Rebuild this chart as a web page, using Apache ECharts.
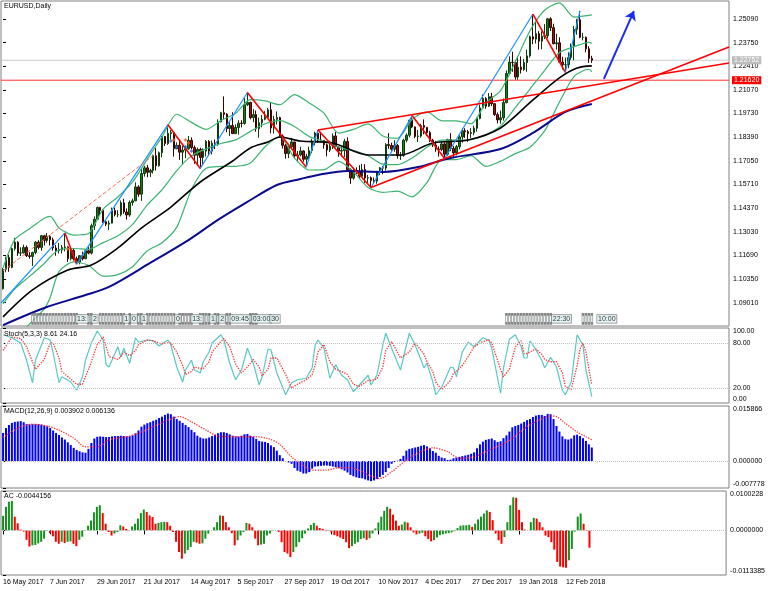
<!DOCTYPE html>
<html><head><meta charset="utf-8">
<script src="https://cdn.jsdelivr.net/npm/echarts@6/dist/echarts.min.js"></script>
<style>html,body{margin:0;padding:0;background:#fff}#c{width:768px;height:591px}</style>
</head><body><div id="c"></div><script>
// ---------- data ----------
const tickLabels = ['16 May 2017','7 Jun 2017','29 Jun 2017','21 Jul 2017','14 Aug 2017','5 Sep 2017','27 Sep 2017','19 Oct 2017','10 Nov 2017','4 Dec 2017','27 Dec 2017','19 Jan 2018','12 Feb 2018'];
const tickBars = [0,16,32,48,64,80,96,112,128,144,160,176,192];
const priceTicks = [1.0901,1.1035,1.1169,1.1303,1.1437,1.1571,1.1705,1.1839,1.1973,1.2107,1.2241,1.2375,1.2509];
const bidPrice = 1.22752;
const levelPrice = 1.21620;

const closes = [1.1090,1.1157,1.1101,1.1207,1.1244,1.1182,1.1183,1.1214,1.1167,1.1163,
1.1185,1.1244,1.1214,1.1280,1.1254,1.1277,1.1257,1.1211,1.1197,1.1199,
1.1213,1.1217,1.1150,1.1197,1.1150,1.1131,1.1167,1.1150,1.1195,1.1182,
1.1337,1.1374,1.1441,1.1424,1.1359,1.1346,1.1352,1.1423,1.1400,1.1400,
1.1467,1.1415,1.1398,1.1469,1.1478,1.1557,1.1516,1.1633,1.1665,1.1640,
1.1650,1.1734,1.1677,1.1751,1.1843,1.1803,1.1860,1.1865,1.1774,1.1793,
1.1754,1.1766,1.1773,1.1821,1.1780,1.1737,1.1770,1.1724,1.1760,1.1815,
1.1760,1.1805,1.1800,1.1925,1.1978,1.1969,1.1888,1.1905,1.1859,1.1894,
1.1918,1.1917,1.2023,1.2036,1.1950,1.1967,1.1887,1.1921,1.1941,1.1952,
1.1994,1.1891,1.1940,1.1950,1.1846,1.1793,1.1746,1.1784,1.1812,1.1733,
1.1738,1.1761,1.1714,1.1730,1.1763,1.1810,1.1862,1.1823,1.1821,1.1796,
1.1766,1.1788,1.1846,1.1784,1.1760,1.1763,1.1815,1.1655,1.1607,1.1650,
1.1645,1.1617,1.1656,1.1608,1.1609,1.1593,1.1590,1.1643,1.1665,1.1664,
1.1797,1.1792,1.1771,1.1792,1.1734,1.1735,1.1822,1.1850,1.1935,1.1897,
1.1843,1.1845,1.1905,1.1895,1.1865,1.1822,1.1795,1.1772,1.1769,1.1801,
1.1742,1.1825,1.1775,1.1750,1.1785,1.1840,1.1875,1.1870,1.1860,1.1865,
1.1890,1.1945,1.2005,1.2058,1.2015,1.2068,1.2029,1.1967,1.1937,1.1949,
1.2035,1.2200,1.2264,1.2262,1.2180,1.2236,1.2222,1.2262,1.2300,1.2408,
1.2395,1.2426,1.2383,1.2411,1.2414,1.2510,1.2460,1.2369,1.2374,1.2265,
1.2250,1.2250,1.2291,1.2355,1.2450,1.2505,1.2405,1.2405,1.2340,1.2285,
1.2275];
const opens = [1.0980,1.1090,1.1157,1.1101,1.1207,1.1244,1.1182,1.1183,1.1214,1.1167,
1.1163,1.1185,1.1244,1.1214,1.1280,1.1254,1.1277,1.1257,1.1211,1.1197,
1.1199,1.1213,1.1217,1.1150,1.1197,1.1150,1.1131,1.1167,1.1150,1.1195,
1.1182,1.1337,1.1374,1.1441,1.1424,1.1359,1.1346,1.1352,1.1423,1.1400,
1.1400,1.1467,1.1415,1.1398,1.1469,1.1478,1.1557,1.1516,1.1633,1.1665,
1.1640,1.1650,1.1734,1.1677,1.1751,1.1843,1.1803,1.1860,1.1865,1.1774,
1.1793,1.1754,1.1766,1.1773,1.1821,1.1780,1.1737,1.1770,1.1724,1.1760,
1.1815,1.1760,1.1805,1.1800,1.1925,1.1978,1.1969,1.1888,1.1905,1.1859,
1.1894,1.1918,1.1917,1.2023,1.2036,1.1950,1.1967,1.1887,1.1921,1.1941,
1.1952,1.1994,1.1891,1.1940,1.1950,1.1846,1.1793,1.1746,1.1784,1.1812,
1.1733,1.1738,1.1761,1.1714,1.1730,1.1763,1.1810,1.1862,1.1823,1.1821,
1.1796,1.1766,1.1788,1.1846,1.1784,1.1760,1.1763,1.1815,1.1655,1.1607,
1.1650,1.1645,1.1617,1.1656,1.1608,1.1609,1.1593,1.1590,1.1643,1.1665,
1.1664,1.1797,1.1792,1.1771,1.1792,1.1734,1.1735,1.1822,1.1850,1.1935,
1.1897,1.1843,1.1845,1.1905,1.1895,1.1865,1.1822,1.1795,1.1772,1.1769,
1.1801,1.1742,1.1825,1.1775,1.1750,1.1785,1.1840,1.1875,1.1870,1.1860,
1.1865,1.1890,1.1945,1.2005,1.2058,1.2015,1.2068,1.2029,1.1967,1.1937,
1.1949,1.2035,1.2200,1.2264,1.2262,1.2180,1.2236,1.2222,1.2262,1.2300,
1.2408,1.2395,1.2426,1.2383,1.2411,1.2414,1.2510,1.2460,1.2369,1.2374,
1.2265,1.2250,1.2250,1.2291,1.2355,1.2450,1.2505,1.2405,1.2405,1.2340,
1.2285];
const highs = [1.1097,1.1162,1.1172,1.1213,1.1268,1.1249,1.1215,1.1230,1.1225,1.1188,
1.1190,1.1250,1.1255,1.1285,1.1285,1.1296,1.1283,1.1270,1.1228,1.1240,
1.1228,1.1296,1.1220,1.1210,1.1210,1.1162,1.1170,1.1190,1.1205,1.1220,
1.1349,1.1390,1.1445,1.1444,1.1430,1.1370,1.1366,1.1440,1.1440,1.1425,
1.1480,1.1490,1.1435,1.1480,1.1490,1.1583,1.1567,1.1658,1.1677,1.1682,
1.1660,1.1740,1.1777,1.1758,1.1846,1.1846,1.1910,1.1880,1.1868,1.1810,
1.1828,1.1790,1.1790,1.1845,1.1838,1.1792,1.1780,1.1779,1.1776,1.1823,
1.1823,1.1820,1.1826,1.1940,1.1983,1.2070,1.1975,1.1923,1.1980,1.1912,
1.1935,1.1935,1.2060,1.2092,1.2040,1.1998,1.1990,1.1950,1.1965,1.1987,
1.2005,1.2035,1.1960,1.1985,1.1955,1.1855,1.1800,1.1790,1.1835,1.1813,
1.1760,1.1785,1.1765,1.1745,1.1785,1.1830,1.1870,1.1880,1.1862,1.1823,
1.1803,1.1819,1.1860,1.1868,1.1785,1.1785,1.1830,1.1838,1.1663,1.1665,
1.1668,1.1680,1.1688,1.1686,1.1625,1.1616,1.1610,1.1648,1.1670,1.1675,
1.1805,1.1862,1.1808,1.1822,1.1800,1.1755,1.1830,1.1860,1.1938,1.1961,
1.1900,1.1880,1.1915,1.1940,1.1895,1.1875,1.1830,1.1818,1.1787,1.1813,
1.1810,1.1830,1.1862,1.1790,1.1795,1.1850,1.1890,1.1890,1.1880,1.1890,
1.1904,1.1950,1.2023,1.2081,1.2066,1.2089,1.2090,1.2032,1.1979,1.1990,
1.2058,1.2217,1.2297,1.2323,1.2275,1.2295,1.2297,1.2283,1.2335,1.2415,
1.2537,1.2494,1.2440,1.2439,1.2480,1.2515,1.2519,1.2482,1.2425,1.2405,
1.2295,1.2290,1.2320,1.2370,1.2470,1.2510,1.2555,1.2430,1.2410,1.2355,
1.2300];
const lows = [1.0975,1.1073,1.1076,1.1096,1.1196,1.1166,1.1165,1.1180,1.1160,1.1150,
1.1109,1.1175,1.1203,1.1195,1.1225,1.1240,1.1225,1.1196,1.1167,1.1180,
1.1180,1.1192,1.1132,1.1140,1.1140,1.1119,1.1118,1.1140,1.1150,1.1175,
1.1174,1.1313,1.1370,1.1395,1.1353,1.1335,1.1312,1.1350,1.1390,1.1385,
1.1390,1.1405,1.1372,1.1388,1.1450,1.1476,1.1501,1.1478,1.1615,1.1612,
1.1613,1.1633,1.1650,1.1672,1.1725,1.1789,1.1795,1.1826,1.1729,1.1770,
1.1710,1.1688,1.1720,1.1768,1.1771,1.1688,1.1680,1.1662,1.1680,1.1730,
1.1733,1.1741,1.1772,1.1790,1.1923,1.1943,1.1867,1.1846,1.1858,1.1859,
1.1853,1.1895,1.1910,1.2015,1.1940,1.1924,1.1870,1.1836,1.1895,1.1935,
1.1945,1.1861,1.1860,1.1911,1.1837,1.1775,1.1717,1.1720,1.1770,1.1718,
1.1697,1.1730,1.1700,1.1669,1.1715,1.1748,1.1793,1.1806,1.1810,1.1774,
1.1730,1.1755,1.1772,1.1783,1.1728,1.1730,1.1727,1.1642,1.1574,1.1598,
1.1630,1.1603,1.1615,1.1580,1.1580,1.1554,1.1575,1.1575,1.1624,1.1629,
1.1650,1.1773,1.1762,1.1756,1.1717,1.1710,1.1728,1.1810,1.1838,1.1890,
1.1833,1.1812,1.1836,1.1855,1.1845,1.1811,1.1783,1.1756,1.1729,1.1760,
1.1718,1.1734,1.1760,1.1722,1.1736,1.1770,1.1808,1.1835,1.1812,1.1835,
1.1850,1.1870,1.1940,1.2000,1.2000,1.2010,1.2015,1.1960,1.1917,1.1915,
1.1933,1.2030,1.2190,1.2210,1.2165,1.2165,1.2200,1.2215,1.2210,1.2290,
1.2366,1.2370,1.2335,1.2337,1.2395,1.2400,1.2441,1.2365,1.2335,1.2260,
1.2223,1.2206,1.2230,1.2278,1.2275,1.2420,1.2400,1.2388,1.2320,1.2260,
1.2260];

// Bollinger bands (20,2), read at these bars
const bbBars = [0,4,9,14,16,19,24,29,34,39,44,49,54,59,64,69,74,79,84,89,94,99,104,109,114,119,124,129,134,139,144,149,154,159,164,169,174,179,184,189,194,199,200];
const bbMid = [1.0894,1.0979,1.1050,1.1123,1.1160,1.1201,1.1208,1.1203,1.1241,1.1280,1.1345,1.1455,1.1541,1.1649,1.1733,1.1773,1.1803,1.1824,1.1872,1.1915,1.1933,1.1900,1.1843,1.1815,1.1782,1.1763,1.1734,1.1686,1.1683,1.1721,1.1782,1.1822,1.1822,1.1825,1.1853,1.1903,1.2006,1.2112,1.2218,1.2319,1.2352,1.2377,1.2371];
const bbUp = [1.1098,1.1258,1.1320,1.1380,1.1390,1.1325,1.1284,1.1293,1.1431,1.1500,1.1585,1.1715,1.1841,1.1969,1.1923,1.1883,1.1933,1.1974,1.2052,1.2045,1.2023,1.2080,1.2033,1.1975,1.1862,1.1883,1.1914,1.1846,1.1833,1.1941,1.1982,1.1932,1.1932,1.1915,1.2033,1.2103,1.2266,1.2442,1.2560,1.2600,1.2520,1.2530,1.2532];
const bbLow = [1.0690,1.0700,1.0780,1.0866,1.0930,1.1077,1.1132,1.1113,1.1051,1.1060,1.1105,1.1195,1.1241,1.1329,1.1543,1.1663,1.1673,1.1674,1.1692,1.1785,1.1843,1.1720,1.1653,1.1655,1.1702,1.1643,1.1554,1.1526,1.1533,1.1501,1.1582,1.1712,1.1712,1.1735,1.1673,1.1703,1.1746,1.1782,1.1876,1.2038,1.2184,1.2224,1.2210];

// moving averages, read at these bars
const maBlackBars = [0,10,22,30,39,47,57,67,78,84,90,94,101,112,124,135,146,158,169,180,189,195,200];
const maBlack = [1.0820,1.0973,1.1086,1.1114,1.1211,1.1324,1.1443,1.1585,1.1704,1.1778,1.1812,1.1840,1.1817,1.1806,1.1738,1.1738,1.1806,1.1823,1.1891,1.2050,1.2175,1.2231,1.2243];
const maBlueBars = [0,14,28,36,50,62,73,83,93,101,107,117,129,141,152,169,180,191,200];
const maBlue = [1.0774,1.0871,1.0944,1.0990,1.1126,1.1245,1.1370,1.1472,1.1568,1.1602,1.1625,1.1647,1.1642,1.1670,1.1721,1.1772,1.1863,1.1982,1.2027];

// zigzag turning points [bar, price]
const zigzag = [[-0.7,1.0899],[21,1.1296],[25,1.1119],[56,1.1910],[67,1.1662],[83,1.2092],[103,1.1669],[107,1.1880],[125,1.1554],[139,1.1961],[150,1.1718],[180,1.2537],[191,1.2206],[196,1.2555]];
// trend lines [bar1, price1, bar2, price2]
const trendLines = [[107,1.1880,246.6,1.2260],[125,1.1554,246.6,1.2350]];
const arrowLine = [[204.1,1.2169],[214.3,1.2554]];
const dashedLine = [[0,1.1081],[51,1.1735]];
const dotsOrange = [[22,1.1205],[58,1.1823],[62,1.1823],[63,1.1806]];
const dotsBlue = [[57,1.1817],[59,1.1783],[62,1.1783],[64,1.1761]];

// calendar event marks along the chart bottom
const eventBars = [10,11,12,13,14,15,16,17,18,19,20,21,22,23,24,25,29,30,33,34,35,36,37,38,39,40,41,43,46,47,49,50,51,52,53,54,55,56,57,58,60,61,62,63,64,67,68,69,70,72,73,76,77,84,85,86,171,172,173,174,175,176,177,178,179,180,181,182,183,184,185,186,197,198,199,200];
const eventTags = [[26.8,'13:'],[31.2,'2'],[41.8,'1'],[44.5,'0'],[47.9,'1'],[59.4,'0'],[65.9,'13:'],[71.3,'1'],[74.4,'2'],[80.5,'09:45'],[87.8,'03:00'],[92.4,'30'],[189.7,'22:30'],[205.1,'10:00']];

// Stochastic (5,3,3)
const stochK = [[0,91],[3,87],[6,80],[8,57],[10,27],[11,57],[14,87],[16,84],[17,67],[19,27],[20,35],[23,28],[25,17],[27,35],[28,57],[30,80],[32,96],[34,84],[35,51],[36,48],[39,75],[40,61],[41,73],[43,53],[45,87],[46,81],[49,84],[51,83],[53,76],[54,79],[56,84],[57,77],[59,48],[61,28],[62,44],[64,57],[65,44],[67,40],[68,55],[70,68],[71,80],[74,91],[75,84],[77,53],[79,31],[81,44],[83,73],[85,53],[87,24],[88,35],[90,72],[91,71],[93,40],[96,11],[98,27],[100,31],[103,33],[105,47],[106,77],[107,84],[109,73],[111,33],[113,51],[115,37],[117,31],[119,15],[121,24],[124,37],[125,24],[127,37],[129,77],[130,93],[132,73],[135,44],[138,93],[140,77],[143,47],[144,53],[146,28],[147,11],[149,21],[152,48],[153,47],[154,35],[156,68],[158,81],[160,75],[163,87],[165,84],[166,73],[169,13],[170,47],[172,85],[174,91],[176,75],[177,60],[178,60],[179,83],[181,71],[183,57],[184,47],[186,61],[188,48],[190,17],[191,11],[193,28],[195,91],[197,77],[198,44],[200,8.61]];
const stochD = [[0,70],[3,88],[6,86],[8,75],[10,55],[11,45],[14,58],[16,80],[17,80],[19,60],[20,42],[23,32],[25,25],[27,25],[28,35],[30,55],[32,78],[34,88],[35,75],[36,62],[39,58],[40,62],[41,68],[43,63],[45,70],[46,78],[49,84],[51,83],[53,80],[54,79],[56,80],[57,80],[59,68],[61,50],[62,38],[64,42],[65,48],[67,46],[68,46],[70,55],[71,68],[74,82],[75,86],[77,75],[79,52],[81,40],[83,48],[85,58],[87,48],[88,36],[90,45],[91,60],[93,60],[96,38],[98,20],[100,25],[103,31],[105,38],[106,50],[107,68],[109,78],[111,55],[113,45],[115,42],[117,38],[119,25],[121,22],[124,30],[125,30],[127,32],[129,48],[130,70],[132,82],[135,60],[138,68],[140,80],[143,65],[144,55],[146,42],[147,28],[149,18],[152,30],[153,40],[154,42],[156,50],[158,62],[160,75],[163,82],[165,84],[166,80],[169,45],[170,35],[172,45],[174,75],[176,83],[177,66],[178,66],[179,68],[181,72],[183,65],[184,58],[186,55],[188,55],[190,40],[191,22],[193,18],[195,50],[196,72],[197,80],[198,68],[199,45],[200,24.16]];

// MACD (12,26,9): main value per bar and signal line
const macdMain = [.0081,.0095,.0104,.0110,.0113,.0114,.0115,.0112,.0107,.0106,
.0106,.0106,.0106,.0105,.0103,.0100,.0095,.0088,.0081,.0075,
.0068,.0062,.0054,.0046,.0038,.0032,.0028,.0025,.0024,.0035,
.0052,.0065,.0070,.0071,.0070,.0069,.0069,.0071,.0072,.0072,
.0073,.0072,.0071,.0072,.0074,.0080,.0088,.0099,.0105,.0109,
.0112,.0116,.0119,.0124,.0128,.0133,.0137,.0135,.0128,.0121,
.0116,.0110,.0104,.0098,.0090,.0083,.0073,.0068,.0065,.0065,
.0068,.0072,.0076,.0080,.0083,.0083,.0081,.0077,.0073,.0072,
.0071,.0073,.0077,.0078,.0073,.0070,.0064,.0058,.0056,.0055,
.0052,.0045,.0040,.0030,.0017,.0008,.0000,-.0004,-.0008,-.0020,
-.0028,-.0031,-.0036,-.0036,-.0032,-.0022,-.0016,-.0015,-.0014,-.0013,
-.0013,-.0014,-.0016,-.0018,-.0021,-.0024,-.0028,-.0033,-.0040,-.0044,
-.0047,-.0049,-.0050,-.0053,-.0056,-.0058,-.0056,-.0052,-.0046,-.0040,
-.0032,-.0020,-.0008,-.0003,.0001,.0006,.0015,.0030,.0035,.0037,
.0039,.0041,.0044,.0046,.0042,.0037,.0029,.0024,.0015,.0010,
.0008,.0003,.0004,.0008,.0010,.0012,.0014,.0016,.0018,.0021,
.0025,.0037,.0048,.0056,.0061,.0063,.0065,.0060,.0055,.0057,
.0066,.0074,.0085,.0097,.0101,.0104,.0108,.0113,.0118,.0121,
.0127,.0131,.0133,.0133,.0130,.0136,.0135,.0121,.0101,.0085,
.0071,.0063,.0062,.0065,.0074,.0076,.0072,.0066,.0058,.0048,
.0039];
const macdSignal = [[0,.0068],[6,.0099],[10,.0106],[15,.0101],[19,.0089],[24,.0066],[28,.0041],[32,.0041],[36,.0061],[42,.0070],[46,.0080],[51,.0099],[56,.0118],[60,.0128],[64,.0113],[69,.0089],[73,.0072],[78,.0070],[85,.0070],[90,.0065],[94,.0048],[98,.0012],[102,-.0012],[105,-.0026],[110,-.0026],[114,-.0019],[119,-.0021],[124,-.0040],[128,-.0050],[132,-.0031],[137,.0003],[142,.0027],[146,.0038],[151,.0027],[155,.0008],[160,.0012],[164,.0027],[169,.0046],[173,.0065],[178,.0099],[182,.0118],[186,.0130],[188,.0128],[191,.0109],[195,.0084],[198,.0070],[200,.006136]];

// Accelerator oscillator per bar
const acValues = [.0037,.0060,.0073,.0075,.0035,.0018,.0002,-.0003,-.0024,-.0041,
-.0038,-.0037,-.0033,-.0029,-.0021,-.0001,-.0007,-.0015,-.0029,-.0034,
-.0029,-.0032,-.0029,-.0028,-.0034,-.0040,-.0024,-.0016,-.0001,.0012,
.0025,.0046,.0060,.0064,.0044,.0017,-.0004,-.0013,-.0008,-.0004,
.0013,.0010,.0004,.0001,.0010,.0017,.0030,.0044,.0053,.0047,
.0038,.0034,.0017,.0019,.0021,.0022,.0021,.0012,-.0004,-.0029,
-.0055,-.0072,-.0059,-.0050,-.0042,-.0029,-.0031,-.0034,-.0033,-.0021,
-.0008,.0000,.0008,.0021,.0038,.0037,.0021,.0008,-.0007,-.0038,
-.0025,-.0013,-.0004,.0019,.0017,.0008,-.0021,-.0038,-.0036,-.0034,
-.0013,-.0008,.0001,.0000,-.0004,-.0030,-.0055,-.0059,-.0068,-.0055,
-.0042,-.0030,-.0020,-.0008,.0005,.0014,.0019,.0012,.0006,.0004,
-.0002,.0001,-.0005,-.0012,-.0015,-.0018,-.0022,-.0030,-.0045,-.0040,
-.0034,-.0030,-.0022,-.0020,-.0024,-.0020,-.0008,.0005,.0020,.0035,
.0050,.0060,.0055,.0040,.0025,.0012,.0015,.0022,.0020,.0008,
-.0005,-.0010,-.0008,-.0006,-.0015,-.0022,-.0028,-.0025,-.0018,-.0012,
-.0010,-.0008,-.0007,-.0005,-.0002,.0006,.0012,.0013,.0013,.0014,
.0009,.0017,.0028,.0035,.0043,.0051,.0047,.0026,-.0008,-.0025,
-.0034,-.0017,.0021,.0064,.0084,.0083,.0052,.0021,.0002,.0000,
.0021,.0032,.0030,.0021,.0008,-.0013,-.0017,-.0030,-.0049,-.0080,
-.0092,-.0094,-.0095,-.0076,-.0047,-.0003,.0035,.0043,.0017,.0001,
-.0044];

// ---------- chart ----------
const FONT = 'Liberation Sans, Arial, sans-serif';
const TXT = {fontSize: 7, color: '#000', fontFamily: FONT};
const X_MIN = -0.7, X_MAX = 246.6;
const pair = (xs, ys) => xs.map((x, i) => [x, ys[i]]);

const chart = echarts.init(document.getElementById('c'), null, {renderer: 'canvas'});
const grids = [
  {left: 1, top: 1, width: 728, height: 325},
  {left: 1, top: 328, width: 728, height: 75},
  {left: 1, top: 406, width: 728, height: 82},
  {left: 1, top: 491, width: 728, height: 84}
].map(g => Object.assign(g, {show: true, borderColor: '#808080', borderWidth: 1, backgroundColor: '#fff'}));

const xAxes = [0, 1, 2, 3].map(i => ({
  type: 'value', gridIndex: i, min: X_MIN, max: X_MAX,
  show: i === 3,
  axisLine: {show: false},
  splitLine: {show: false},
  axisTick: {show: true, customValues: tickBars, length: 4, lineStyle: {color: '#000'}},
  axisLabel: {show: true, customValues: tickBars, align: 'left', margin: 4,
    formatter: v => tickLabels[tickBars.indexOf(v)] || '', ...TXT}
}));

function rightAxis(gridIndex, min, max, values, digits) {
  return {
    type: 'value', gridIndex, position: 'right', min, max,
    axisLine: {show: false}, splitLine: {show: false},
    axisTick: {show: true, customValues: values, length: 3, lineStyle: {color: '#000'}},
    axisLabel: {show: true, customValues: values, margin: 4, formatter: v => v.toFixed(digits), ...TXT}
  };
}
const yAxes = [
  rightAxis(0, 1.07686, 1.26110, priceTicks, 5),
  {type: 'value', gridIndex: 0, min: 0, max: 1, show: false},
  rightAxis(1, 0, 100, [0, 20, 80, 100], 2),
  rightAxis(2, -0.007778, 0.015866, [-0.007778, 0, 0.015866], 6),
  rightAxis(3, -0.0113385, 0.0100228, [-0.0113385, 0, 0.0100228], 7)
];
[2, 3, 4].forEach(k => { yAxes[k].axisLabel.verticalAlignMaxLabel = 'top'; yAxes[k].axisLabel.verticalAlignMinLabel = 'bottom'; });

const dotted = {color: '#c0c0c0', type: 'dotted', width: 1};
const series = [];

// horizontal price lines with value boxes at the right edge
[[bidPrice, '#c8c8c8', '#bdbdbd'], [levelPrice, '#ff3030', '#ff0000']].forEach(([p, lc, bg]) => series.push({
  type: 'line', xAxisIndex: 0, yAxisIndex: 0, z: 1, symbol: 'none', silent: true,
  data: [[X_MIN, p], [X_MAX, p]], lineStyle: {color: lc, width: 1},
  endLabel: {show: true, formatter: () => p.toFixed(5), distance: 3, fontSize: 7, fontFamily: FONT, color: '#fff',
    backgroundColor: bg, padding: [1, 2, 0, 2]}
}));

series.push({
  type: 'candlestick', xAxisIndex: 0, yAxisIndex: 0, barWidth: 2, z: 2,
  data: closes.map((c, i) => [i, opens[i], c, lows[i], highs[i]]),
  encode: {x: 0, y: [1, 2, 3, 4]},
  itemStyle: {color: '#1d7a1d', color0: '#9a1212', borderColor: '#0d3d0d', borderColor0: '#3a0000', borderWidth: 1}
});

const bbStyle = {color: '#3cb371', width: 1.2};
[bbUp, bbMid, bbLow].forEach(arr => series.push({
  type: 'line', xAxisIndex: 0, yAxisIndex: 0, data: pair(bbBars, arr), symbol: 'none', smooth: 0.25,
  lineStyle: bbStyle, z: 3
}));
series.push({type: 'line', xAxisIndex: 0, yAxisIndex: 0, data: pair(maBlackBars, maBlack), symbol: 'none', smooth: 0.3,
  lineStyle: {color: '#000', width: 1.6}, z: 3});
series.push({type: 'line', xAxisIndex: 0, yAxisIndex: 0, data: pair(maBlueBars, maBlue), symbol: 'none', smooth: 0.3,
  lineStyle: {color: '#0a0a8c', width: 2}, z: 3});

const zzSegs = [];
for (let i = 1; i < zigzag.length; i++) {
  const a = zigzag[i - 1], b = zigzag[i];
  const up = b[1] > a[1];
  zzSegs.push({coords: [a, b], lineStyle: {color: up ? '#1e90ff' : '#ff0000', width: up ? 1.2 : 1.6, opacity: 1}});
}
series.push({type: 'lines', coordinateSystem: 'cartesian2d', xAxisIndex: 0, yAxisIndex: 0, z: 4, data: zzSegs, clip: true,
  lineStyle: {opacity: 1}});
series.push({type: 'lines', coordinateSystem: 'cartesian2d', xAxisIndex: 0, yAxisIndex: 0, z: 4, clip: true,
  data: trendLines.map(t => ({coords: [[t[0], t[1]], [t[2], t[3]]]})), lineStyle: {color: '#ff0000', width: 1.6, opacity: 1}});
series.push({type: 'lines', coordinateSystem: 'cartesian2d', xAxisIndex: 0, yAxisIndex: 0, z: 4,
  data: [{coords: dashedLine}], lineStyle: {color: '#f07050', width: 1, type: 'dashed', opacity: 1}});
series.push({type: 'lines', coordinateSystem: 'cartesian2d', xAxisIndex: 0, yAxisIndex: 0, z: 5,
  symbol: ['none', 'arrow'], symbolSize: 9,
  data: [{coords: arrowLine}], lineStyle: {color: '#1a2cf0', width: 2, opacity: 1}});
series.push({type: 'scatter', xAxisIndex: 0, yAxisIndex: 0, z: 5, symbol: 'diamond', symbolSize: 4, data: dotsOrange, itemStyle: {color: '#ff5a1e'}});
series.push({type: 'scatter', xAxisIndex: 0, yAxisIndex: 0, z: 5, symbol: 'diamond', symbolSize: 4, data: dotsBlue, itemStyle: {color: '#1e6ad0'}});

series.push({type: 'scatter', xAxisIndex: 0, yAxisIndex: 1, z: 6, symbol: 'rect', symbolSize: [2, 9],
  data: eventBars.map(b => [b, 0.022]), itemStyle: {color: '#eef6f6', borderColor: '#666', borderWidth: 0.6}});
series.push({type: 'scatter', xAxisIndex: 0, yAxisIndex: 1, z: 7, symbol: 'rect', symbolSize: 1,
  data: eventTags.map(t => ({value: [t[0], 0.022], name: t[1]})), itemStyle: {color: 'rgba(0,0,0,0)'},
  labelLayout: {hideOverlap: false},
  label: {show: true, position: 'inside', formatter: p => p.name, fontSize: 7, fontFamily: FONT, color: '#000',
    backgroundColor: '#dff3f3', borderColor: '#666', borderWidth: 0.6, padding: [1, 1, 0, 1]}});

series.push({type: 'line', xAxisIndex: 1, yAxisIndex: 2, data: stochK, symbol: 'none', lineStyle: {color: '#5ac8c3', width: 1.2},
  markLine: {symbol: ['none', 'none'], silent: true, precision: 2, label: {show: false}, lineStyle: dotted, data: [{yAxis: 20}, {yAxis: 80}]}});
series.push({type: 'line', xAxisIndex: 1, yAxisIndex: 2, data: stochD, symbol: 'none', lineStyle: {color: '#ff3030', width: 1.3, type: 'dotted'}});

series.push({type: 'bar', xAxisIndex: 2, yAxisIndex: 3, barWidth: 2, data: macdMain.map((v, i) => [i, v]), itemStyle: {color: '#0000ff'},
  markLine: {symbol: ['none', 'none'], silent: true, label: {show: false}, lineStyle: dotted, data: [{yAxis: 0}]}});
series.push({type: 'line', xAxisIndex: 2, yAxisIndex: 3, data: macdSignal, symbol: 'none', smooth: 0.3, lineStyle: {color: '#ff3030', width: 1.3, type: 'dotted'}});

series.push({type: 'bar', xAxisIndex: 3, yAxisIndex: 4, barWidth: 2,
  data: acValues.map((v, i) => ({value: [i, v], itemStyle: {color: (i === 0 || v >= acValues[i - 1]) ? '#14911e' : '#ff0000'}})),
  markLine: {symbol: ['none', 'none'], silent: true, label: {show: false}, lineStyle: dotted, data: [{yAxis: 0}]}});

const title = [
  ['EURUSD,Daily', 4, 3], ['Stoch(5,3,3) 8.61 24.16', 4, 331], ['MACD(12,26,9) 0.003902 0.006136', 4, 408], ['AC -0.0044156', 4, 493]
].map(t => ({text: t[0], left: t[1], top: t[2], padding: 0, textStyle: {fontSize: 7, fontWeight: 'normal', color: '#000', fontFamily: FONT}}));

chart.setOption({animation: false, backgroundColor: '#fff', title, grid: grids, xAxis: xAxes, yAxis: yAxes, series});
</script></body></html>
